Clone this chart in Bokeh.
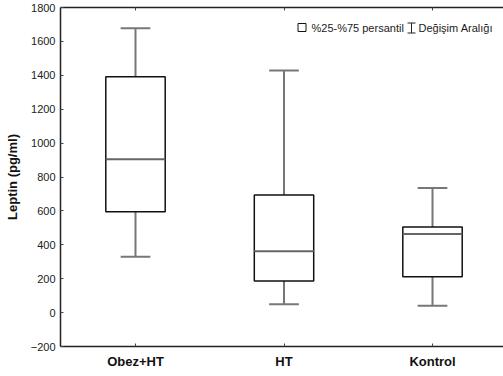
from bokeh.plotting import figure
from bokeh.models import Range1d, FixedTicker, LinearAxis
from bokeh.embed import file_html
from bokeh.resources import INLINE
from bokeh.core.properties import value

categories = ["Obez+HT", "HT", "Kontrol"]
q1 = [595, 187, 212]
median = [905, 362, 464]
q3 = [1392, 694, 505]
vmin = [330, 49, 41]
vmax = [1677, 1428, 735]
y_ticks = [-200, 0, 200, 400, 600, 800, 1000, 1200, 1400, 1600, 1800]

xs = [1, 2, 3]
XMIN, XMAX = 0.495, 3.478
YMIN, YMAX = -200, 1800
FL, FR, FT, FB = 60, 503, 7, 346

def px2x(px):
    return XMIN + (px - FL) / (FR - FL) * (XMAX - XMIN)

def px2y(py):
    return YMAX - (py - FT) / (FB - FT) * (YMAX - YMIN)

p = figure(width=503, height=376, output_backend="svg", toolbar_location=None,
           x_range=Range1d(XMIN, XMAX), y_range=Range1d(YMIN, YMAX),
           min_border_left=60, min_border_right=0, min_border_top=7, min_border_bottom=30)
p.outline_line_color = None
p.background_fill_color = "white"
p.border_fill_color = "white"
p.xgrid.visible = False
p.ygrid.visible = False

FONT = "Liberation Sans"

p.xaxis.ticker = FixedTicker(ticks=xs)
p.xaxis.major_label_overrides = {x: c for x, c in zip(xs, categories)}
p.xaxis.major_label_text_font = FONT
p.xaxis.major_label_text_font_style = "bold"
p.xaxis.major_label_text_font_size = "13px"
p.xaxis.major_label_text_color = "#111111"
p.xaxis.major_label_standoff = 7
p.xaxis.minor_tick_line_color = None
p.xaxis.major_tick_in = 3
p.xaxis.major_tick_out = 0
p.xaxis.axis_line_color = "#222222"
p.xaxis.axis_line_width = 1.5
p.xaxis.major_tick_line_color = "#444444"

p.yaxis.ticker = FixedTicker(ticks=y_ticks)
p.yaxis.major_label_text_font = FONT
p.yaxis.major_label_text_font_size = "11px"
p.yaxis.major_label_text_color = "#222222"
p.yaxis.major_label_standoff = 5
p.yaxis.minor_tick_line_color = None
p.yaxis.major_tick_in = 3
p.yaxis.major_tick_out = 0
p.yaxis.axis_line_color = "#222222"
p.yaxis.axis_line_width = 1.5
p.yaxis.major_tick_line_color = "#444444"
p.yaxis.axis_label = "Leptin (pg/ml)"
p.yaxis.axis_label_text_font = FONT
p.yaxis.axis_label_text_font_style = "bold"
p.yaxis.axis_label_text_font_size = "13px"
p.yaxis.axis_label_text_color = "#111111"
p.yaxis.axis_label_standoff = 8

top_axis = LinearAxis(ticker=FixedTicker(ticks=xs))
top_axis.major_label_text_color = None
top_axis.major_label_text_font_size = "0px"
top_axis.major_label_standoff = 0
top_axis.major_tick_in = 3
top_axis.major_tick_out = 0
top_axis.minor_tick_line_color = None
top_axis.axis_line_color = "#222222"
top_axis.axis_line_width = 1.5
top_axis.major_tick_line_color = "#444444"
p.add_layout(top_axis, "above")

bw = 0.40
cw = 0.20
gray = "#777777"

# whiskers
p.segment(x0=xs, y0=q3, x1=xs, y1=vmax, line_color=gray, line_width=2)
p.segment(x0=xs, y0=q1, x1=xs, y1=vmin, line_color=gray, line_width=2)
p.segment(x0=[x - cw / 2 for x in xs], y0=vmax, x1=[x + cw / 2 for x in xs], y1=vmax,
          line_color=gray, line_width=2)
p.segment(x0=[x - cw / 2 for x in xs], y0=vmin, x1=[x + cw / 2 for x in xs], y1=vmin,
          line_color=gray, line_width=2)
# boxes
p.quad(left=[x - bw / 2 for x in xs], right=[x + bw / 2 for x in xs], bottom=q1, top=q3,
       fill_color="white", line_color="#111111", line_width=1.5)
p.segment(x0=[x - bw / 2 for x in xs], y0=median, x1=[x + bw / 2 for x in xs], y1=median,
          line_color="#666666", line_width=2)

# legend
p.quad(left=[px2x(297.5)], right=[px2x(305.5)], top=[px2y(23)], bottom=[px2y(31)],
       fill_color="white", line_color="#111111", line_width=1)
p.text(x=[px2x(311)], y=[px2y(27)], text=["%25-%75 persantil"], text_font=value(FONT),
       text_font_size="11px", text_color="#222222", text_baseline="middle", text_align="left")
ib = px2x(411)
p.segment(x0=[ib, px2x(407), px2x(407)], y0=[px2y(22.5), px2y(22.5), px2y(32.5)],
          x1=[ib, px2x(415), px2x(415)], y1=[px2y(32.5), px2y(22.5), px2y(32.5)],
          line_color="#222222", line_width=1)
p.text(x=[px2x(418)], y=[px2y(27)], text=["Değişim Aralığı"], text_font=value(FONT),
       text_font_size="11px", text_color="#222222", text_baseline="middle", text_align="left")

open("out.html", "w").write(file_html(p, INLINE))
